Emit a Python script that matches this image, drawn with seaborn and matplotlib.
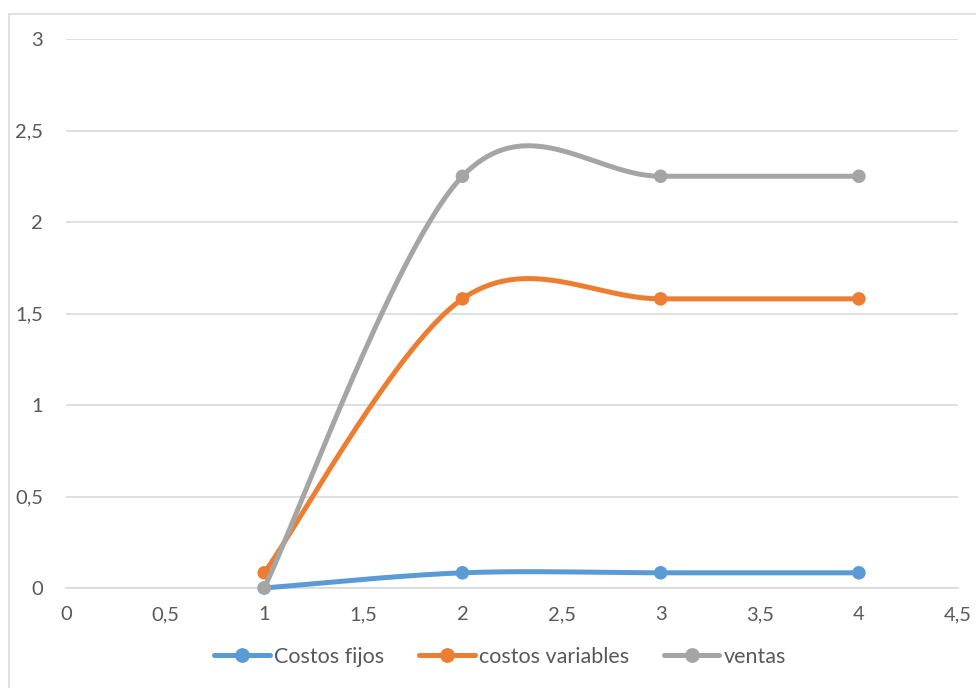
import numpy as np
import pandas as pd
import matplotlib
matplotlib.use("Agg")
import matplotlib.pyplot as plt
from matplotlib.patches import Rectangle
from matplotlib.ticker import FuncFormatter, MultipleLocator
import seaborn as sns

# Data
x_vals = [1, 2, 3, 4]
costos_fijos = [0, 0.083, 0.083, 0.083]
costos_variables = [0.083, 1.58, 1.58, 1.58]
ventas = [0, 2.25, 2.25, 2.25]

series_names = ["Costos fijos", "costos variables", "ventas"]
series_values = [costos_fijos, costos_variables, ventas]
series_colors = ["#5B9BD5", "#ED7D31", "#A5A5A5"]


def smooth_curve(xs, ys, n=60):
    """Catmull-Rom style Bezier smoothing through every point."""
    pts = np.column_stack([xs, ys]).astype(float)
    out = [pts[0]]
    for i in range(len(pts) - 1):
        p0 = pts[i - 1] if i > 0 else pts[i]
        p1 = pts[i]
        p2 = pts[i + 1]
        p3 = pts[i + 2] if i + 2 < len(pts) else pts[i + 1]
        c1 = p1 + (p2 - p0) / 6.0
        c2 = p2 - (p3 - p1) / 6.0
        t = np.linspace(0, 1, n)[1:, None]
        seg = ((1 - t) ** 3) * p1 + 3 * ((1 - t) ** 2) * t * c1 \
            + 3 * (1 - t) * t ** 2 * c2 + t ** 3 * p2
        out.extend(seg)
    out = np.array(out)
    return out[:, 0], out[:, 1]


sns.set_theme(style="white")
plt.rcParams["font.family"] = ["Lato", "DejaVu Sans"]

fig = plt.figure(figsize=(9.76, 6.88), dpi=100)
W, H = 976, 688
ax = fig.add_axes([66 / W, 1 - 588 / H, (958 - 66) / W, (588 - 39) / H])

# chart frame
fig.patches.append(Rectangle((9 / W, -0.05), 1.2, 1 - 14 / H + 0.05,
                             transform=fig.transFigure, fill=False,
                             edgecolor="#D9D9D9", linewidth=1.2, zorder=0))

handles = []
for i, (name, vals, col) in enumerate(zip(series_names, series_values, series_colors)):
    cx, cy = smooth_curve(x_vals, vals)
    curve = pd.DataFrame({"x": cx, "y": cy})
    sns.lineplot(data=curve, x="x", y="y", sort=False, estimator=None,
                 color=col, linewidth=3.6, ax=ax, solid_capstyle="round",
                 zorder=3 + 2 * i, clip_on=False)
    pts = pd.DataFrame({"x": x_vals, "y": vals})
    sns.scatterplot(data=pts, x="x", y="y", color=col, s=95,
                    edgecolor="none", ax=ax, zorder=4 + 2 * i, clip_on=False)
    handles.append(plt.Line2D([], [], color=col, linewidth=3.6,
                              marker="o", markersize=9.6, label=name))

ax.set_xlim(0, 4.5)
ax.set_ylim(0, 3)
ax.xaxis.set_major_locator(MultipleLocator(0.5))
ax.yaxis.set_major_locator(MultipleLocator(0.5))
fmt = FuncFormatter(lambda v, p: (f"{v:g}").replace(".", ","))
ax.xaxis.set_major_formatter(fmt)
ax.yaxis.set_major_formatter(fmt)
ax.set_xlabel("")
ax.set_ylabel("")

ax.grid(axis="y", color="#D9D9D9", linewidth=1.2)
ax.grid(axis="x", visible=False)
for s in ["top", "right", "left"]:
    ax.spines[s].set_visible(False)
ax.spines["bottom"].set_color("#D9D9D9")
ax.spines["bottom"].set_linewidth(1.2)
ax.set_axisbelow(True)
ax.tick_params(axis="both", length=0, labelsize=14.5, labelcolor="#595959")
ax.tick_params(axis="x", pad=13)
ax.tick_params(axis="y", pad=16.5)
for lbl in ax.get_yticklabels():
    lbl.set_horizontalalignment("right")

leg = fig.legend(handles=handles, loc="center", bbox_to_anchor=(500 / W, 1 - 657 / H),
                 ncol=3, frameon=False, fontsize=15.5, handlelength=2.6,
                 columnspacing=1.6, handletextpad=0.2)
for t in leg.get_texts():
    t.set_color("#595959")

fig.savefig("out.png", dpi=100)
